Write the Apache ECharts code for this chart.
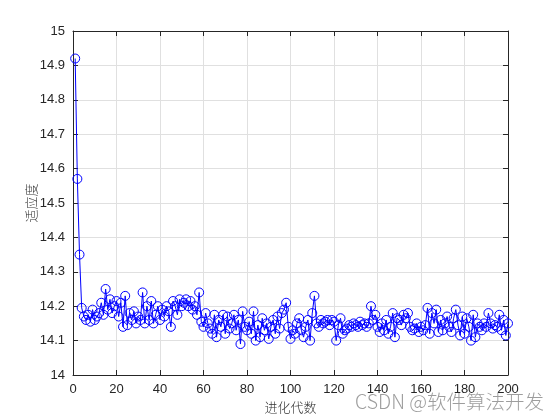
<!DOCTYPE html>
<html>
<head>
<meta charset="utf-8">
<script src="https://cdn.jsdelivr.net/npm/echarts@6/dist/echarts.min.js"></script>
<style>html,body{margin:0;padding:0;background:#fff;}#c{width:560px;height:420px;}</style>
</head>
<body>
<div id="c"></div>
<script>
const generations = Array.from({length: 200}, (_, i) => i + 1);
const fitness = [
14.92, 14.57, 14.35, 14.195, 14.17, 14.16, 14.175, 14.155, 14.19, 14.16,
14.17, 14.18, 14.21, 14.175, 14.25, 14.19, 14.22, 14.18, 14.2, 14.215,
14.17, 14.21, 14.14, 14.23, 14.145, 14.18, 14.16, 14.185, 14.15, 14.17,
14.16, 14.24, 14.15, 14.2, 14.16, 14.215, 14.15, 14.175, 14.2, 14.16,
14.19, 14.17, 14.2, 14.185, 14.14, 14.215, 14.2, 14.175, 14.22, 14.2,
14.21, 14.22, 14.2, 14.215, 14.19, 14.2, 14.175, 14.24, 14.155, 14.14,
14.18, 14.15, 14.135, 14.12, 14.175, 14.11, 14.16, 14.14, 14.175, 14.12,
14.17, 14.135, 14.15, 14.175, 14.13, 14.16, 14.09, 14.185, 14.14, 14.13,
14.155, 14.12, 14.185, 14.1, 14.145, 14.11, 14.165, 14.13, 14.15, 14.105,
14.14, 14.16, 14.12, 14.17, 14.135, 14.18, 14.19, 14.21, 14.14, 14.105,
14.13, 14.12, 14.15, 14.165, 14.13, 14.11, 14.14, 14.16, 14.1, 14.18,
14.23, 14.15, 14.14, 14.16, 14.15, 14.155, 14.16, 14.145, 14.16, 14.155,
14.1, 14.145, 14.165, 14.12, 14.13, 14.135, 14.145, 14.14, 14.15, 14.145,
14.14, 14.155, 14.145, 14.15, 14.14, 14.15, 14.2, 14.16, 14.175, 14.14,
14.125, 14.15, 14.13, 14.16, 14.12, 14.14, 14.18, 14.11, 14.165, 14.16,
14.145, 14.175, 14.165, 14.18, 14.14, 14.13, 14.135, 14.15, 14.125, 14.14,
14.13, 14.145, 14.195, 14.12, 14.18, 14.15, 14.19, 14.125, 14.16, 14.13,
14.15, 14.17, 14.14, 14.125, 14.165, 14.19, 14.145, 14.115, 14.17, 14.12,
14.165, 14.14, 14.1, 14.175, 14.11, 14.15, 14.14, 14.13, 14.15, 14.14,
14.18, 14.15, 14.135, 14.145, 14.14, 14.175, 14.13, 14.16, 14.115, 14.15
];
const xTitle = '进化代数';
const yTitle = '适应度';
const watermark = 'CSDN @软件算法开发';

const chart = echarts.init(document.getElementById('c'), null, {renderer: 'canvas'});
const font = 'Liberation Sans, Arial, sans-serif';
const labelColor = '#262626';
const axisCommon = {
  axisLine: {show: true, onZero: false, lineStyle: {color: '#262626', width: 1}},
  axisTick: {show: true, inside: true, length: 5, lineStyle: {color: '#262626'}},
};
chart.setOption({
  animation: false,
  backgroundColor: '#fff',
  grid: {left: 73, right: 52, top: 31, bottom: 45},
  xAxis: [
    Object.assign({
      type: 'value', min: 0, max: 200, interval: 20,
      name: xTitle, nameLocation: 'middle', nameGap: 25,
      nameTextStyle: {color: '#333', fontSize: 13, fontFamily: 'Noto Sans CJK SC', fontWeight: 300},
      axisLabel: {color: labelColor, fontSize: 13, fontFamily: font, margin: 8},
      splitLine: {show: true, lineStyle: {color: '#e0e0e0', width: 1}},
    }, axisCommon),
    Object.assign({
      type: 'value', min: 0, max: 200, interval: 20, position: 'top',
      axisLabel: {show: false}, splitLine: {show: false}
    }, axisCommon)
  ],
  yAxis: [
    Object.assign({
      type: 'value', min: 14, max: 15, interval: 0.1,
      name: yTitle, nameLocation: 'middle', nameGap: 35, nameMoveOverlap: false,
      nameTextStyle: {color: '#333', fontSize: 13, fontFamily: 'Noto Sans CJK SC', fontWeight: 300},
      axisLabel: {color: labelColor, fontSize: 13, fontFamily: font, margin: 8,
        formatter: v => String(Math.round(v * 10) / 10)},
      splitLine: {show: true, lineStyle: {color: '#e0e0e0', width: 1}},
    }, axisCommon),
    Object.assign({
      type: 'value', min: 14, max: 15, interval: 0.1, position: 'right',
      axisLabel: {show: false}, splitLine: {show: false}
    }, axisCommon)
  ],
  series: [{
    type: 'line',
    data: generations.map((g, i) => [g, fitness[i]]),
    symbol: 'circle', symbolSize: 9,
    showAllSymbol: true,
    itemStyle: {color: 'rgba(0,0,0,0)', borderColor: '#0000ff', borderWidth: 1},
    lineStyle: {color: '#0000ff', width: 1},
    emphasis: {disabled: true}
  }],
  graphic: [{
    type: 'text', left: 354, top: 391,
    style: {text: watermark, fill: 'rgba(140,140,140,0.85)', font: '300 19.5px "Noto Sans CJK SC", sans-serif',
      stroke: '#fff', lineWidth: 2}
  }]
});
</script>
</body>
</html>
